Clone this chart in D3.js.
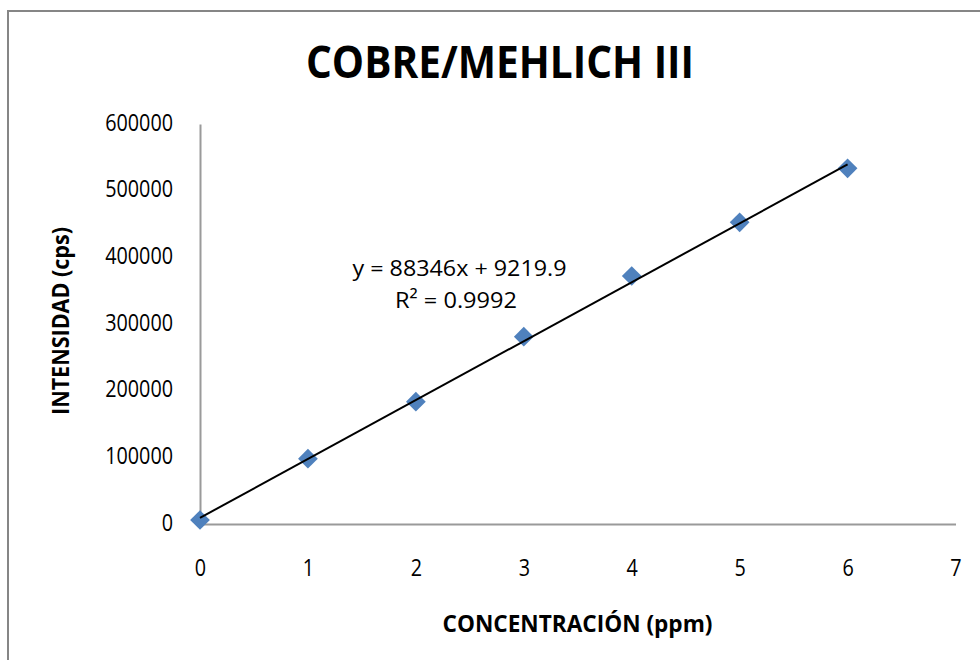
<!DOCTYPE html>
<html>
<head>
<meta charset="utf-8">
<script src="https://cdn.jsdelivr.net/npm/d3@7"></script>
<style>
  html, body { margin: 0; padding: 0; background: #fff; }
  svg { display: block; }
</style>
</head>
<body>
<svg id="chart" width="980" height="660"></svg>
<script>
// ---- data ----
const concentrations = [0, 1, 2, 3, 4, 5, 6];
const intensities = [6000, 97950, 183450, 280950, 372000, 452500, 533500];
const xTicks = [0, 1, 2, 3, 4, 5, 6, 7];
const yTicks = [0, 100000, 200000, 300000, 400000, 500000, 600000];
const trendSlope = 88346;
const trendIntercept = 9219.9;
const trendRange = [0, 6];
const titleText = "COBRE/MEHLICH III";
const xTitle = "CONCENTRACIÓN (ppm)";
const yTitle = "INTENSIDAD (cps)";
const eqText = "y = 88346x + 9219.9";
const r2Text = "R² = 0.9992";

const svg = d3.select("#chart");
const font = "'Open Sans', 'Liberation Sans', sans-serif";

// outer chart border
svg.append("rect")
  .attr("x", 8).attr("y", 11).attr("width", 990).attr("height", 680)
  .attr("fill", "none").attr("stroke", "#868686").attr("stroke-width", 2);

const plot = { left: 200, right: 955.5, top: 124, bottom: 524 };

const x = d3.scaleLinear().domain([0, 7]).range([plot.left, plot.right]);
const y = d3.scaleLinear().domain([0, 600000]).range([plot.bottom, plot.top]);

// axes
const yAxis = svg.append("g")
  .attr("transform", `translate(${plot.left},0)`)
  .call(d3.axisLeft(y).tickValues(yTicks).tickFormat(d3.format("d")).tickSize(0).tickPadding(27));
const xAxis = svg.append("g")
  .attr("transform", `translate(0,${plot.bottom})`)
  .call(d3.axisBottom(x).tickValues(xTicks).tickFormat(d3.format("d")).tickSize(0).tickPadding(44));

[xAxis, yAxis].forEach(g => {
  g.attr("font-size", 23).attr("font-family", font);
  g.select(".domain").attr("stroke", "#9a9a9a").attr("stroke-width", 2);
  g.selectAll("text")
    .attr("font-family", font).attr("font-size", 23).attr("fill", "#000")
    .attr("textLength", function () { return this.textContent.length * 11.3; })
    .attr("lengthAdjust", "spacingAndGlyphs");
});
yAxis.selectAll("text").attr("dy", "0.27em");
xAxis.selectAll("text").attr("dy", "0.34em");

// markers (diamonds)
const diamond = d3.symbol().type(d3.symbolSquare).size(195);
svg.append("g").selectAll("path")
  .data(concentrations.map((c, i) => ({ c, v: intensities[i] })))
  .join("path")
  .attr("d", diamond)
  .attr("transform", d => `translate(${x(d.c)},${y(d.v)}) rotate(45)`)
  .attr("fill", "#4F81BD");

// trendline (drawn over markers)
svg.append("line")
  .attr("x1", x(trendRange[0])).attr("y1", y(trendSlope * trendRange[0] + trendIntercept))
  .attr("x2", x(trendRange[1])).attr("y2", y(trendSlope * trendRange[1] + trendIntercept))
  .attr("stroke", "#000").attr("stroke-width", 2);

// title
svg.append("text")
  .attr("x", 500).attr("y", 78)
  .attr("text-anchor", "middle")
  .attr("font-family", font).attr("font-weight", "bold").attr("font-size", 45)
  .attr("textLength", 388).attr("lengthAdjust", "spacingAndGlyphs")
  .text(titleText);

// axis titles
svg.append("text")
  .attr("x", 577.5).attr("y", 632)
  .attr("text-anchor", "middle")
  .attr("font-family", font).attr("font-weight", "bold").attr("font-size", 23)
  .attr("textLength", 270).attr("lengthAdjust", "spacingAndGlyphs")
  .text(xTitle);

svg.append("text")
  .attr("transform", "translate(69,321) rotate(-90)")
  .attr("text-anchor", "middle")
  .attr("font-family", font).attr("font-weight", "bold").attr("font-size", 23)
  .attr("textLength", 188).attr("lengthAdjust", "spacingAndGlyphs")
  .text(yTitle);

// equation labels
svg.append("text")
  .attr("x", 459.5).attr("y", 276)
  .attr("text-anchor", "middle")
  .attr("font-family", font).attr("font-size", 22.5)
  .attr("textLength", 214).attr("lengthAdjust", "spacingAndGlyphs")
  .text(eqText);
svg.append("text")
  .attr("x", 456).attr("y", 308)
  .attr("text-anchor", "middle")
  .attr("font-family", font).attr("font-size", 22.5)
  .attr("textLength", 122).attr("lengthAdjust", "spacingAndGlyphs")
  .text(r2Text);
</script>
</body>
</html>
